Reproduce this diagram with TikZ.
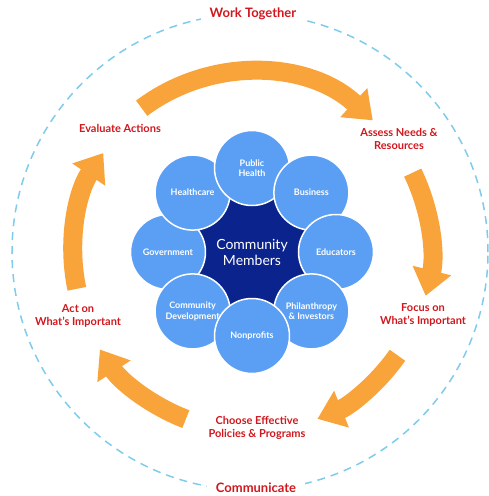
\documentclass[tikz,border=0pt]{standalone}
\usepackage{fontspec}
\setmainfont{Lato}
\usetikzlibrary{arrows.meta}
\definecolor{phasered}{HTML}{D0181E}
\definecolor{memberblue}{HTML}{5A9FF4}
\definecolor{membernavy}{HTML}{0B238C}
\definecolor{cycleorange}{HTML}{F9A33B}
\definecolor{ringblue}{HTML}{7FCBEC}
\begin{document}
\begin{tikzpicture}[x=1pt,y=1pt]
	\tikzstyle{phase}=[text=phasered,font=\bfseries\fontsize{11}{12.5}\selectfont,align=center]
	\tikzstyle{theme}=[text=phasered,font=\bfseries\fontsize{13}{15}\selectfont,fill=white,inner xsep=9pt]
	\tikzstyle{member}=[circle,fill=memberblue,draw=white,line width=1.5pt,minimum size=75pt,inner sep=0pt,text=white,font=\bfseries\fontsize{9}{10.5}\selectfont,align=center]
	\tikzstyle{cycle arrow}=[draw=cycleorange,line width=19pt,-{Triangle[width=38pt,length=26pt]}]
	\useasboundingbox (-250,-244) rectangle (238,252);
	% outer ring
	\draw[ringblue,line width=1.5pt,dash pattern=on 8pt off 6pt] (0,0) circle[radius=238pt];
	\node[theme] (together) at (3,238) {Work Together};
	\node[theme] (communicate) at (6,-236) {Communicate};
	% cycle
	\draw[cycle arrow] (127:180) arc[start angle=127,end angle=47,radius=180pt];
	\draw[cycle arrow] (26:181) arc[start angle=26,end angle=-14,radius=181pt];
	\draw[cycle arrow] (-35:180) arc[start angle=-35,end angle=-68,radius=180pt];
	\draw[cycle arrow] (-111:179) arc[start angle=-111,end angle=-147,radius=179pt];
	\draw[cycle arrow] (192:177) arc[start angle=192,end angle=146,radius=177pt];
	\node[phase] (evaluate) at (-130,124) {Evaluate Actions};
	\node[phase] (assess) at (149,113) {Assess Needs \&\\Resources};
	\node[phase] (focus) at (173,-63) {Focus on\\What’s Important};
	\node[phase] (choose) at (7,-176) {Choose Effective\\Policies \& Programs};
	\node[phase] (act) at (-172,-64) {Act on\\What’s Important};
	% community
	\node[circle,fill=membernavy,minimum size=120pt,text=white,align=center,font=\fontsize{14}{16}\selectfont] (members) at (2,0) {Community\\Members};
	\foreach \ang/\name/\txt in {180/gov/Government, 135/health/Healthcare, 90/public/{Public\\Health}, 45/business/Business, 0/edu/Educators, -45/phil/{Philanthropy\\\& Investors}, -135/dev/{Community\\Development}, -90/nonprofit/Nonprofits}
		\node[member] (\name) at ([shift={(\ang:84)}]members) {\txt};
\end{tikzpicture}
\end{document}
